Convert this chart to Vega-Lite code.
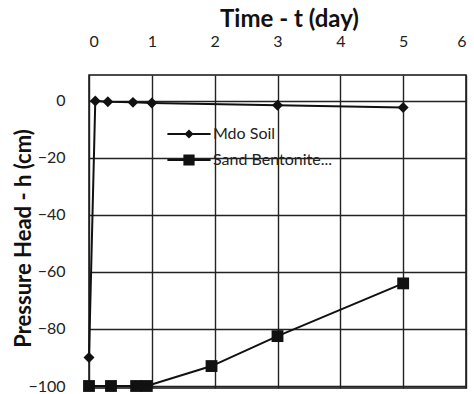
{
  "$schema": "https://vega.github.io/schema/vega-lite/v6.json",
  "width": 377,
  "height": 313,
  "autosize": "none",
  "padding": {"left": 89, "top": 75, "right": 8, "bottom": 6},
  "background": "white",
  "config": {
    "font": "Lato",
    "view": {"stroke": "#111", "strokeWidth": 1.5},
    "axis": {"gridColor": "#222", "gridWidth": 1.4, "gridOpacity": 1, "labelColor": "#222", "titleColor": "#111", "labelFont": "Lato", "titleFont": "Lato"}
  },
  "data": {"values": [
    {"series": "Mdo Soil", "t": 0, "h": -90},
    {"series": "Mdo Soil", "t": 0.1, "h": 0},
    {"series": "Mdo Soil", "t": 0.3, "h": -0.3},
    {"series": "Mdo Soil", "t": 0.7, "h": -0.5},
    {"series": "Mdo Soil", "t": 1, "h": -0.7},
    {"series": "Mdo Soil", "t": 3, "h": -1.5},
    {"series": "Mdo Soil", "t": 5, "h": -2.3},
    {"series": "Sand Bentonite...", "t": 0, "h": -100},
    {"series": "Sand Bentonite...", "t": 0.35, "h": -100},
    {"series": "Sand Bentonite...", "t": 0.75, "h": -100},
    {"series": "Sand Bentonite...", "t": 0.92, "h": -100},
    {"series": "Sand Bentonite...", "t": 1.95, "h": -93},
    {"series": "Sand Bentonite...", "t": 3, "h": -82.5},
    {"series": "Sand Bentonite...", "t": 5, "h": -64}
  ]},
  "encoding": {
    "x": {"field": "t", "type": "quantitative", "scale": {"domain": [0, 6], "nice": false, "zero": false},
      "axis": {"orient": "top", "values": [0,1,2,3,4,5,6], "title": "Time - t (day)", "titleFontSize": 24, "titleFontWeight": "bold", "titlePadding": 2, "titleX": 200, "labelFontSize": 16, "labelPadding": 26, "ticks": false, "domain": false}},
    "y": {"field": "h", "type": "quantitative", "scale": {"domain": [-100.7, 9.1], "nice": false, "zero": false},
      "axis": {"values": [-100,-80,-60,-40,-20,0], "title": "Pressure Head - h (cm)", "titleFontSize": 22, "titleFontWeight": "bold", "titlePadding": -8, "titleY": 163, "labelFontSize": 16, "labelPadding": 24, "ticks": false, "domain": false}}
  },
  "layer": [
    {"mark": {"type": "line", "color": "#111", "strokeWidth": 2},
     "encoding": {"detail": {"field": "series"}}},
    {"mark": {"type": "point", "filled": true, "color": "#111", "opacity": 1},
     "encoding": {
       "shape": {"field": "series", "type": "nominal", "scale": {"domain": ["Mdo Soil", "Sand Bentonite..."], "range": ["diamond", "square"]}, "legend": null},
       "size": {"field": "series", "type": "ordinal", "scale": {"domain": ["Mdo Soil", "Sand Bentonite..."], "range": [120, 140]}, "legend": null}
     }},
    {"transform": [{"filter": "false"}],
     "mark": {"type": "point", "filled": true, "color": "#111", "opacity": 1},
     "encoding": {
       "shape": {"field": "series", "type": "nominal",
         "scale": {"domain": ["Mdo Soil", "Sand Bentonite..."], "range": ["M-1.27,-0.06L1.27,-0.06L1.27,0.06L-1.27,0.06ZM0,-0.27L0.27,0L0,0.27L-0.27,0Z", "M-1.27,-0.06L1.27,-0.06L1.27,0.06L-1.27,0.06ZM-0.33,-0.33L0.33,-0.33L0.33,0.33L-0.33,0.33Z"]},
         "legend": {"orient": "none", "legendX": 83, "legendY": 42, "title": null, "symbolSize": 1156, "symbolFillColor": "#111", "symbolStrokeColor": "#111", "symbolStrokeWidth": 0, "symbolOpacity": 1, "labelFontSize": 16, "labelFont": "Lato", "labelColor": "#222", "labelOffset": 7, "rowPadding": 1, "padding": 0,
           "encode": {"symbols": {"update": {"fill": {"value": "#111"}, "opacity": {"value": 1}}}}}}
     }}
  ],
  "resolve": {"scale": {"shape": "independent", "size": "independent"}}
}
